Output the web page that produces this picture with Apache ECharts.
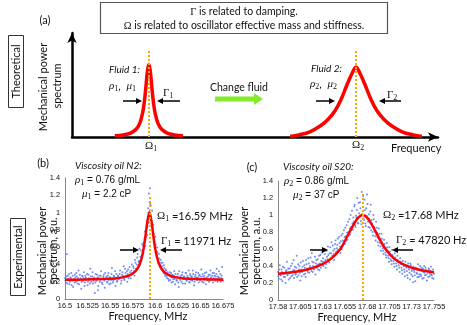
<!DOCTYPE html>
<html><head><meta charset="utf-8">
<script src="https://cdn.jsdelivr.net/npm/echarts@6/dist/echarts.min.js"></script>
<style>html,body{margin:0;padding:0;background:#fff}#c{width:467px;height:325px}</style>
</head><body><div id="c"></div><script>
// ---------- DATA ----------
// (a) theoretical spectra, arbitrary frequency units 0..100, arbitrary power 0..1
const theoryFluid1 = [[11.7,.012],[14,.02],[16,.038],[17.5,.074],[18.5,.131],[19.3,.233],[19.8,.35],[20.2,.485],[20.6,.63],[21,.70],[21.4,.63],[21.8,.485],[22.2,.35],[22.7,.233],[23.5,.131],[24.5,.074],[26,.038],[28,.02],[30.3,.012]];
const theoryFluid2 = [[59.6,.005],[62,.02],[65,.05],[68,.11],[70,.17],[72,.26],[73.5,.36],[75,.49],[76.5,.61],[77.6,.67],[78.7,.61],[80.2,.49],[81.7,.36],[83.2,.26],[85.2,.17],[87.2,.11],[90.2,.05],[93.2,.02],[95.6,.005]];
const theoryPeaks = [21, 77.6];

// (b) viscosity oil N2 – measured points [MHz, a.u.]
const expN2 = [
[16.500,.24],[16.501,.19],[16.502,.52],[16.503,.27],[16.504,.22],[16.505,.17],[16.506,.25],[16.507,.30],[16.508,.21],[16.509,.14],[16.510,.23],[16.511,.28],[16.512,.20],[16.513,.26],[16.514,.18],[16.515,.33],[16.516,.22],[16.517,.24],[16.518,.12],[16.519,.27],[16.520,.21],[16.521,.31],[16.522,.19],[16.523,.25],[16.524,.23],[16.525,.16],[16.526,.28],[16.527,.22],[16.528,.35],[16.529,.20],[16.530,.26],[16.531,.18],[16.532,.24],[16.533,.07],[16.534,.29],[16.535,.21],[16.536,.25],[16.537,.15],[16.538,.27],[16.539,.22],[16.540,.32],[16.541,.19],[16.542,.24],[16.543,.28],[16.544,.13],[16.545,.23],[16.546,.26],[16.547,.20],[16.548,.30],[16.549,.17],[16.550,.25],[16.551,.22],[16.552,.36],[16.553,.19],[16.554,.27],[16.555,.23],[16.556,.15],[16.557,.29],[16.558,.21],[16.559,.26],[16.560,.24],[16.561,.33],[16.562,.18],[16.563,.28],[16.564,.25],[16.565,.38],[16.566,.22],[16.567,.30],[16.568,.27],[16.569,.20],[16.570,.34],[16.571,.26],[16.572,.31],[16.573,.24],[16.574,.40],[16.575,.29],[16.576,.36],[16.577,.27],[16.578,.42],[16.579,.33],[16.580,.48],[16.581,.36],[16.582,.44],[16.583,.39],[16.584,.56],[16.585,.47],[16.586,.62],[16.587,.52],[16.588,.70],[16.589,.61],[16.590,.82],[16.591,.74],[16.5915,.95],[16.592,1.05],[16.5925,.88],[16.593,1.22],[16.5935,1.12],[16.594,1.28],[16.5945,.97],[16.595,1.08],[16.596,.90],[16.5965,1.02],[16.597,.78],[16.598,.86],[16.599,.66],[16.600,.72],[16.601,.55],[16.602,.60],[16.603,.46],[16.604,.52],[16.605,.40],[16.606,.45],[16.607,.34],[16.608,.42],[16.609,.30],[16.610,.36],[16.611,.27],[16.612,.33],[16.613,.24],[16.614,.29],[16.615,.21],[16.616,.31],[16.617,.26],[16.618,.19],[16.619,.28],[16.620,.23],[16.621,.32],[16.622,.17],[16.623,.25],[16.624,.22],[16.625,.29],[16.626,.14],[16.627,.24],[16.628,.27],[16.629,.20],[16.630,.31],[16.631,.23],[16.632,.26],[16.633,.18],[16.634,.30],[16.635,.22],[16.636,.25],[16.637,.33],[16.638,.19],[16.639,.27],[16.640,.24],[16.641,.21],[16.642,.29],[16.643,.16],[16.644,.26],[16.645,.31],[16.646,.22],[16.647,.25],[16.648,.19],[16.649,.28],[16.650,.23],[16.651,.34],[16.652,.20],[16.653,.26],[16.654,.24],[16.655,.30],[16.656,.17],[16.657,.25],[16.658,.22],[16.659,.28],[16.660,.21],[16.661,.33],[16.662,.24],[16.663,.27],[16.664,.19],[16.665,.30],[16.666,.23],[16.667,.26],[16.668,.35],[16.669,.20],[16.670,.25],[16.671,.22],[16.672,.29],[16.673,.24],[16.674,.37],[16.675,.21],
[16.5005,.21],[16.5015,.26],[16.5025,.18],[16.5035,.23],[16.5045,.29],[16.5055,.20],[16.5065,.24],[16.5075,.16],[16.5085,.27],[16.5095,.22],[16.5105,.19],[16.5115,.25],[16.5125,.30],[16.5135,.21],[16.5145,.24],[16.5155,.17],[16.5165,.28],[16.5175,.23],[16.5185,.20],[16.5195,.26],[16.5205,.24],[16.5215,.15],[16.5225,.27],[16.5235,.22],[16.5245,.29],[16.5255,.20],[16.5265,.24],[16.5275,.18],[16.5285,.26],[16.5295,.23],[16.5305,.31],[16.5315,.21],[16.5325,.25],[16.5335,.19],[16.5345,.22],[16.5355,.28],[16.5365,.10],[16.5375,.24],[16.5385,.20],[16.5395,.27],[16.5405,.23],[16.5415,.17],[16.5425,.26],[16.5435,.21],[16.5445,.30],[16.5455,.24],[16.5465,.19],[16.5475,.27],[16.5485,.22],[16.5495,.25],[16.5505,.18],[16.5515,.29],[16.5525,.23],[16.5535,.21],[16.5545,.26],[16.5555,.32],[16.5565,.24],[16.5575,.20],[16.5585,.27],[16.5595,.23],[16.5605,.29],[16.5615,.25],[16.5625,.21],[16.5635,.31],[16.5645,.27],[16.5655,.23],[16.5665,.35],[16.5675,.26],[16.5685,.32],[16.5695,.29],[16.5705,.24],[16.5715,.37],[16.5725,.28],[16.5735,.33],[16.5745,.30],[16.5755,.38],[16.5765,.32],[16.5775,.45],[16.5785,.35],[16.5795,.40],[16.5805,.52],[16.5815,.43],[16.5825,.58],[16.5835,.49],[16.5845,.45],[16.5855,.64],[16.5865,.57],[16.5875,.66],[16.5885,.78],[16.5895,.72],[16.5905,.90],[16.5915,.84],[16.5925,1.00],[16.5935,.93],[16.5945,1.10],[16.5955,.95],[16.5965,.88],[16.5975,.82],[16.5985,.75],[16.5995,.60],[16.6005,.63],[16.6015,.50],[16.6025,.54],[16.6035,.41],[16.6045,.47],[16.6055,.37],[16.6065,.42],[16.6075,.38],[16.6085,.33],[16.6095,.39],[16.6105,.29],[16.6115,.34],[16.6125,.26],[16.6135,.31],[16.6145,.23],[16.6155,.28],[16.6165,.22],[16.6175,.30],[16.6185,.25],[16.6195,.20],[16.6205,.27],[16.6215,.23],[16.6225,.29],[16.6235,.21],[16.6245,.26],[16.6255,.19],[16.6265,.32],[16.6275,.22],[16.6285,.25],[16.6295,.28],[16.6305,.18],[16.6315,.26],[16.6325,.23],[16.6335,.30],[16.6345,.21],[16.6355,.27],[16.6365,.24],[16.6375,.20],[16.6385,.29],[16.6395,.22],[16.6405,.26],[16.6415,.33],[16.6425,.23],[16.6435,.20],[16.6445,.28],[16.6455,.25],[16.6465,.22],[16.6475,.30],[16.6485,.27],[16.6495,.21],[16.6505,.26],[16.6515,.23],[16.6525,.29],[16.6535,.19],[16.6545,.27],[16.6555,.24],[16.6565,.31],[16.6575,.22],[16.6585,.26],[16.6595,.20],[16.6605,.28],[16.6615,.25],[16.6625,.22],[16.6635,.30],[16.6645,.24],[16.6655,.27],[16.6665,.21],[16.6675,.29],[16.6685,.23],[16.6695,.26],[16.6705,.32],[16.6715,.24],[16.6725,.20],[16.6735,.27],[16.6745,.23]
];
// (b) fitted curve
const fitN2 = [[16.5,.223],[16.52,.225],[16.54,.23],[16.555,.238],[16.565,.253],[16.572,.276],[16.577,.31],[16.581,.365],[16.584,.44],[16.5865,.55],[16.5885,.68],[16.5905,.844],[16.592,.94],[16.5935,1.0],[16.595,.94],[16.5965,.844],[16.5985,.68],[16.6005,.55],[16.603,.44],[16.606,.365],[16.61,.31],[16.615,.276],[16.622,.253],[16.632,.238],[16.647,.23],[16.667,.225],[16.675,.224]];
const peakN2 = 16.5935;
const ticksN2 = ['16.5','16.525','16.55','16.575','16.6','16.625','16.65','16.675'];

// (c) viscosity oil S20 – measured points [MHz, a.u.]
const expS20 = [
[17.580,.33],[17.581,.25],[17.582,.41],[17.583,.29],[17.584,.36],[17.585,.22],[17.586,.31],[17.587,.38],[17.588,.27],[17.589,.34],[17.590,.45],[17.591,.30],[17.592,.24],[17.593,.37],[17.594,.32],[17.595,.28],[17.596,.43],[17.597,.35],[17.598,.26],[17.599,.39],[17.600,.31],[17.601,.52],[17.602,.34],[17.603,.29],[17.604,.40],[17.605,.23],[17.606,.36],[17.607,.33],[17.608,.46],[17.609,.30],[17.610,.38],[17.611,.27],[17.612,.42],[17.613,.35],[17.614,.49],[17.615,.32],[17.616,.40],[17.617,.37],[17.618,.55],[17.619,.33],[17.620,.44],[17.621,.39],[17.622,.30],[17.623,.47],[17.624,.41],[17.625,.36],[17.626,.52],[17.627,.43],[17.628,.38],[17.629,.56],[17.630,.45],[17.631,.40],[17.632,.60],[17.633,.47],[17.634,.42],[17.635,.51],[17.636,.63],[17.637,.46],[17.638,.55],[17.639,.49],[17.640,.68],[17.641,.52],[17.642,.58],[17.643,.47],[17.644,.66],[17.645,.56],[17.646,.61],[17.647,.72],[17.648,.58],[17.649,.67],[17.650,.55],[17.651,.76],[17.652,.64],[17.653,.70],[17.654,.82],[17.655,.66],[17.656,.75],[17.657,.88],[17.658,.71],[17.659,.80],[17.660,.95],[17.661,.77],[17.662,.86],[17.663,1.05],[17.664,.83],[17.665,.92],[17.666,1.12],[17.667,.86],[17.668,.97],[17.669,1.20],[17.670,.90],[17.671,1.02],[17.672,1.15],[17.673,.93],[17.674,1.27],[17.675,1.05],[17.676,.96],[17.677,1.18],[17.678,.90],[17.679,1.08],[17.680,1.24],[17.681,.92],[17.682,1.01],[17.683,.85],[17.684,1.12],[17.685,.94],[17.686,.80],[17.687,1.00],[17.688,.86],[17.689,.75],[17.690,.92],[17.691,.79],[17.692,.68],[17.693,.84],[17.694,.72],[17.695,.63],[17.696,.78],[17.697,.66],[17.698,.58],[17.699,.71],[17.700,.61],[17.701,.53],[17.702,.67],[17.703,.57],[17.704,.49],[17.705,.62],[17.706,.54],[17.707,.46],[17.708,.59],[17.709,.50],[17.710,.43],[17.711,.55],[17.712,.47],[17.713,.40],[17.714,.52],[17.715,.44],[17.716,.38],[17.717,.49],[17.718,.42],[17.719,.35],[17.720,.46],[17.721,.40],[17.722,.33],[17.723,.45],[17.724,.38],[17.725,.29],[17.726,.43],[17.727,.36],[17.728,.24],[17.729,.41],[17.730,.34],[17.731,.28],[17.732,.39],[17.733,.33],[17.734,.22],[17.735,.37],[17.736,.31],[17.737,.42],[17.738,.27],[17.739,.35],[17.740,.30],[17.741,.38],[17.742,.25],[17.743,.33],[17.744,.40],[17.745,.29],[17.746,.35],[17.747,.23],[17.748,.32],[17.749,.37],[17.750,.28],[17.751,.34],[17.752,.30],[17.753,.26],[17.754,.36],[17.755,.31],
[17.5805,.28],[17.5815,.36],[17.5825,.30],[17.5835,.24],[17.5845,.33],[17.5855,.39],[17.5865,.27],[17.5875,.31],[17.5885,.20],[17.5895,.35],[17.5905,.29],[17.5915,.37],[17.5925,.32],[17.5935,.26],[17.5945,.40],[17.5955,.33],[17.5965,.29],[17.5975,.47],[17.5985,.35],[17.5995,.30],[17.6005,.38],[17.6015,.27],[17.6025,.42],[17.6035,.36],[17.6045,.32],[17.6055,.44],[17.6065,.28],[17.6075,.39],[17.6085,.35],[17.6095,.41],[17.6105,.31],[17.6115,.47],[17.6125,.37],[17.6135,.33],[17.6145,.43],[17.6155,.38],[17.6165,.50],[17.6175,.34],[17.6185,.45],[17.6195,.40],[17.6205,.36],[17.6215,.51],[17.6225,.43],[17.6235,.38],[17.6245,.48],[17.6255,.42],[17.6265,.35],[17.6275,.53],[17.6285,.46],[17.6295,.41],[17.6305,.49],[17.6315,.44],[17.6325,.54],[17.6335,.38],[17.6345,.58],[17.6355,.48],[17.6365,.53],[17.6375,.44],[17.6385,.62],[17.6395,.55],[17.6405,.50],[17.6415,.64],[17.6425,.54],[17.6435,.60],[17.6445,.70],[17.6455,.57],[17.6465,.65],[17.6475,.59],[17.6485,.74],[17.6495,.63],[17.6505,.69],[17.6515,.60],[17.6525,.78],[17.6535,.68],[17.6545,.74],[17.6555,.85],[17.6565,.70],[17.6575,.79],[17.6585,.92],[17.6595,.76],[17.6605,.84],[17.6615,1.00],[17.6625,.82],[17.6635,.90],[17.6645,.97],[17.6655,1.10],[17.6665,.88],[17.6675,.99],[17.6685,1.06],[17.6695,.91],[17.6705,1.14],[17.6715,.98],[17.6725,1.08],[17.6735,.89],[17.6745,1.01],[17.6755,1.22],[17.6765,.94],[17.6775,1.06],[17.6785,.87],[17.6795,.99],[17.6805,1.13],[17.6815,.86],[17.6825,.95],[17.6835,1.04],[17.6845,.82],[17.6855,.90],[17.6865,.76],[17.6875,.95],[17.6885,.81],[17.6895,.70],[17.6905,.85],[17.6915,.74],[17.6925,.64],[17.6935,.78],[17.6945,.67],[17.6955,.58],[17.6965,.72],[17.6975,.61],[17.6985,.54],[17.6995,.66],[17.7005,.56],[17.7015,.50],[17.7025,.62],[17.7035,.52],[17.7045,.45],[17.7055,.57],[17.7065,.48],[17.7075,.42],[17.7085,.53],[17.7095,.46],[17.7105,.39],[17.7115,.50],[17.7125,.43],[17.7135,.36],[17.7145,.47],[17.7155,.41],[17.7165,.33],[17.7175,.45],[17.7185,.38],[17.7195,.31],[17.7205,.42],[17.7215,.36],[17.7225,.28],[17.7235,.40],[17.7245,.34],[17.7255,.26],[17.7265,.38],[17.7275,.32],[17.7285,.43],[17.7295,.30],[17.7305,.36],[17.7315,.21],[17.7325,.35],[17.7335,.29],[17.7345,.38],[17.7355,.32],[17.7365,.27],[17.7375,.36],[17.7385,.30],[17.7395,.40],[17.7405,.28],[17.7415,.34],[17.7425,.37],[17.7435,.26],[17.7445,.32],[17.7455,.38],[17.7465,.30],[17.7475,.34],[17.7485,.27],[17.7495,.36],[17.7505,.31],[17.7515,.39],[17.7525,.29],[17.7535,.33],[17.7545,.25]
];
const fitS20 = [[17.58,.31],[17.6,.333],[17.615,.365],[17.63,.423],[17.64,.49],[17.65,.6],[17.657,.735],[17.664,.872],[17.67,.969],[17.675,1.0],[17.68,.969],[17.686,.872],[17.693,.735],[17.7,.61],[17.71,.49],[17.72,.423],[17.735,.365],[17.75,.333],[17.755,.327]];
const peakS20 = 17.675;
const ticksS20 = ['17.58','17.605','17.63','17.655','17.68','17.705','17.73','17.755'];

// ---------- STYLE ----------
const SANS = 'Lato, "Open Sans", sans-serif';
const ARIAL = '"Liberation Sans", Arial, sans-serif';
const SERIF = '"Liberation Serif", "DejaVu Serif", serif';
const RED = '#ff0000', ORANGE = '#f9a800', DOT = '#5679f0';

function T(text, x, y, size, opt) {
  opt = opt || {};
  return { type:'text', x:x, y:y, rotation: opt.rot || 0, silent:true, z:50,
    style:{ text:text, fill: opt.color || '#111', font: (opt.style||'') + ' ' + size + 'px ' + (opt.family || SANS),
      textAlign: opt.align || 'left', textVerticalAlign:'middle', rich: opt.rich } };
}
function arrow(x1,y1,x2,y2,w,hl,hw,color){
  const a=Math.atan2(y2-y1,x2-x1), bx=x2-hl*Math.cos(a), by=y2-hl*Math.sin(a);
  const px=-Math.sin(a)*hw/2, py=Math.cos(a)*hw/2;
  return [
    {type:'line', silent:true, z:50, shape:{x1:x1,y1:y1,x2:bx+Math.cos(a),y2:by+Math.sin(a)}, style:{stroke:color,lineWidth:w}},
    {type:'polygon', silent:true, z:50, shape:{points:[[x2,y2],[bx+px,by+py],[bx-px,by-py]]}, style:{fill:color}}
  ];
}
const richG = (sz) => ({
  g:{ font: sz + 'px ' + SERIF, fill:'#111' },
  gi:{ font: 'italic ' + sz + 'px ' + SERIF, fill:'#111' },
  s:{ font: (sz-3) + 'px ' + SERIF, fill:'#111', padding:[6,0,0,0] },
  a:{ font: (sz-1) + 'px ' + ARIAL, fill:'#111' },
  t:{ font: sz + 'px ' + SANS, fill:'#111' }
});

const graphics = [
  T('(a)', 45, 20, 11, {align:'center'}),
  {type:'rect', silent:true, shape:{x:100.5,y:2.5,width:287,height:31}, style:{fill:'none', stroke:'#555', lineWidth:1.2}},
  T('{g|Γ}{t| is related to damping.}', 244, 12, 10.5, {align:'center', rich: richG(10.5)}),
  T('{g|Ω}{t| is related to oscillator effective mass and stiffness.}', 244, 26, 10.5, {align:'center', rich: richG(10.5)}),
  {type:'rect', silent:true, shape:{x:8.5,y:35.5,width:15,height:72}, style:{fill:'none', stroke:'#333', lineWidth:1}},
  T('Theoretical', 16, 71.5, 11, {align:'center', rot:Math.PI/2}),
  T('Mechanical power', 43, 87, 11, {align:'center', rot:Math.PI/2}),
  T('spectrum', 57, 86, 11, {align:'center', rot:Math.PI/2}),
  T('Fluid 1:', 109, 70, 10, {style:'italic'}),
  T('{gi|ρ}{s|1}{t|,  }{gi|μ}{s|1}', 109, 86, 11, {rich: richG(11)}),
  T('{g|Γ}{s|1}', 163, 93, 11, {rich: richG(11)}),
  T('{g|Ω}{s|1}', 145, 146, 11, {rich: richG(11)}),
  T('Change fluid', 210, 88, 10.5),
  ...arrow(215, 99, 263, 99, 5, 9, 12, '#84ea2c'),
  T('Fluid 2:', 311, 69, 10, {style:'italic'}),
  T('{gi|ρ}{s|2}{t|,  }{gi|μ}{s|2}', 310, 84, 11, {rich: richG(11)}),
  T('{g|Γ}{s|2}', 387, 95, 11, {rich: richG(11)}),
  T('{g|Ω}{s|2}', 352, 145, 11, {rich: richG(11)}),
  T('Frequency', 391, 148, 11),
  ...arrow(123, 101, 142, 101, 1.5, 6, 6, '#000'),
  ...arrow(180, 101, 157, 101, 1.5, 6, 6, '#000'),
  ...arrow(316, 101, 335, 101, 1.5, 6, 6, '#000'),
  ...arrow(401, 101, 379, 101, 1.5, 6, 6, '#000'),

  // (b)
  T('(b)', 43, 163, 11, {align:'center'}),
  T('Viscosity oil N2:', 75, 166, 10, {style:'italic'}),
  T('{gi|ρ}{s|1}{a| = 0.76 g/mL}', 75, 180, 11, {rich: richG(11)}),
  T('{gi|μ}{s|1}{a| = 2.2 cP}', 82, 194, 11, {rich: richG(11)}),
  T('{g|Ω}{s|1}{t| =16.59 MHz}', 157, 216, 11, {rich: richG(11)}),
  T('{g|Γ}{s|1}{t| = 11971 Hz}', 161, 241, 11, {rich: richG(11)}),
  ...arrow(120, 250, 139, 250, 1.5, 6, 6, '#000'),
  ...arrow(182, 250, 160, 250, 1.5, 6, 6, '#000'),
  {type:'rect', silent:true, shape:{x:10.5,y:218.5,width:15,height:77}, style:{fill:'none', stroke:'#333', lineWidth:1}},
  T('Experimental', 18, 257, 11, {align:'center', rot:Math.PI/2}),
  T('Mechanical power', 42, 251, 11, {align:'center', rot:Math.PI/2}),
  T('spectrum, a.u.', 53, 251, 11, {align:'center', rot:Math.PI/2}),
  T('Frequency, MHz', 148, 316, 11, {align:'center'}),

  // (c)
  T('(c)', 252, 167, 11, {align:'center'}),
  T('Viscosity oil S20:', 283, 167, 10, {style:'italic'}),
  T('{gi|ρ}{s|2}{a| = 0.86 g/mL}', 284, 181, 11, {rich: richG(11)}),
  T('{gi|μ}{s|2}{a| = 37 cP}', 293, 195, 11, {rich: richG(11)}),
  T('{g|Ω}{s|2}{t| =17.68 MHz}', 383, 215, 11, {rich: richG(11)}),
  T('{g|Γ}{s|2}{t| = 47820 Hz}', 396, 240, 11, {rich: richG(11)}),
  ...arrow(310, 250, 328, 250, 1.5, 6, 6, '#000'),
  ...arrow(413, 250, 392, 250, 1.5, 6, 6, '#000'),
  T('Mechanical power', 244, 251, 11, {align:'center', rot:Math.PI/2}),
  T('spectrum, a.u.', 256, 251, 11, {align:'center', rot:Math.PI/2}),
  T('Frequency, MHz', 357, 317, 11, {align:'center'})
];

function ml(x, top) {
  return { silent:true, symbol:'none', label:{show:false}, animation:false, z:10,
    lineStyle:{type:'dotted', color:ORANGE, width:2}, emphasis:{disabled:true},
    data:[[{coord:[x,0]},{coord:[x,top]}]] };
}
function expX(idx, labels) {
  const vals = labels.map(Number);
  return { type:'value', gridIndex:idx, min:vals[0], max:vals[vals.length-1],
    axisLine:{show:true, onZero:false, lineStyle:{color:'#888', width:1}},
    axisTick:{show:false}, splitLine:{show:false},
    axisLabel:{customValues: vals, formatter: v => labels[vals.findIndex(t => Math.abs(t - v) < 1e-6)] || '',
      fontFamily: ARIAL, fontSize: 7.4, color:'#111', margin: 3} };
}
function expY(idx) {
  return { type:'value', gridIndex:idx, min:0, max:1.4, interval:0.2,
    axisLine:{show:true, lineStyle:{color:'#888', width:1}},
    axisTick:{show:false}, splitLine:{show:false},
    axisLabel:{formatter: v => String(+v.toFixed(1)), fontFamily: ARIAL, fontSize: 7.4, color:'#111', margin: 5} };
}

const option = {
  animation:false,
  backgroundColor:'#fff',
  grid:[
    {left:72, top:33, width:366, height:104, outerBoundsMode:'none'},
    {left:65, top:178, width:158, height:121, outerBoundsMode:'none'},
    {left:278, top:181, width:156, height:119, outerBoundsMode:'none'}
  ],
  xAxis:[
    {type:'value', gridIndex:0, min:0, max:100, axisLine:{show:true, symbol:['none','arrow'], symbolSize:[7,10], lineStyle:{color:'#000', width:2.5}}, axisTick:{show:false}, axisLabel:{show:false}, splitLine:{show:false}},
    expX(1, ticksN2),
    expX(2, ticksS20)
  ],
  yAxis:[
    {type:'value', gridIndex:0, min:0, max:1, axisLine:{show:true, symbol:['none','arrow'], symbolSize:[7,10], lineStyle:{color:'#000', width:2.5}}, axisTick:{show:false}, axisLabel:{show:false}, splitLine:{show:false}},
    expY(1), expY(2)
  ],
  series:[
    {type:'line', xAxisIndex:0, yAxisIndex:0, data:theoryFluid1, smooth:0.4, symbol:'none', lineStyle:{color:RED, width:3.5}, z:3, markLine: ml(theoryPeaks[0], 0.83)},
    {type:'line', xAxisIndex:0, yAxisIndex:0, data:theoryFluid2, smooth:0.4, symbol:'none', lineStyle:{color:RED, width:3.5}, z:3, markLine: ml(theoryPeaks[1], 0.84)},
    {type:'scatter', xAxisIndex:1, yAxisIndex:1, data:expN2, symbolSize:2, itemStyle:{color:DOT, opacity:0.85}, z:2},
    {type:'line', xAxisIndex:1, yAxisIndex:1, data:fitN2, smooth:0.4, symbol:'none', lineStyle:{color:RED, width:2.5}, z:3, markLine: ml(peakN2, 1.2)},
    {type:'scatter', xAxisIndex:2, yAxisIndex:2, data:expS20, symbolSize:2, itemStyle:{color:DOT, opacity:0.85}, z:2},
    {type:'line', xAxisIndex:2, yAxisIndex:2, data:fitS20, smooth:0.4, symbol:'none', lineStyle:{color:RED, width:2.5}, z:3, markLine: ml(peakS20, 1.25)}
  ],
  graphic: graphics
};
const chart = echarts.init(document.getElementById('c'));
chart.setOption(option);
</script></body></html>
